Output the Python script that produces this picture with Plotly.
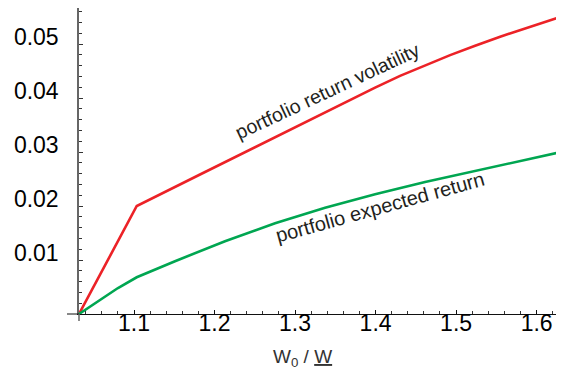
import plotly.graph_objects as go

# data
x_vol = [1.0317, 1.1034, 1.1820, 1.2441, 1.3062, 1.3373, 1.3683, 1.3994, 1.4304,
         1.4615, 1.4926, 1.5236, 1.5547, 1.6333]
y_vol = [0.0, 0.0200, 0.02583, 0.03046, 0.03509, 0.03743, 0.03972, 0.04193, 0.04410,
         0.04609, 0.04794, 0.04969, 0.05135, 0.05522]

x_ret = [1.0317, 1.0801, 1.1034, 1.1509, 1.2130, 1.2752, 1.3373, 1.3994, 1.4615, 1.5547, 1.6333]
y_ret = [0.0, 0.00481, 0.00680, 0.00978, 0.01348, 0.01681, 0.01969, 0.02219, 0.02445, 0.02757, 0.03009]

x_ticks = [1.1, 1.2, 1.3, 1.4, 1.5, 1.6]
y_ticks = [0.01, 0.02, 0.03, 0.04, 0.05]

x_range = [1.0317, 1.634]
y_range = [0.0, 0.05667]

FONT = "Liberation Sans, Arial, Helvetica, sans-serif"

fig = go.Figure()
fig.add_trace(go.Scatter(x=x_vol, y=y_vol, mode="lines",
                         line=dict(color="#ec2227", width=2.6),
                         showlegend=False, hoverinfo="skip"))
fig.add_trace(go.Scatter(x=x_ret, y=y_ret, mode="lines",
                         line=dict(color="#00a651", width=2.6),
                         showlegend=False, hoverinfo="skip"))

# the page body adds an 8px offset, so the figure is 8px smaller on each side
fig.update_layout(
    width=556, height=365,
    margin=dict(l=71, r=0, t=0, b=59, autoexpand=False),
    paper_bgcolor="white", plot_bgcolor="white",
    font=dict(family=FONT, color="black"),
    showlegend=False,
    xaxis=dict(range=x_range, tickvals=x_ticks, ticktext=[f"{v:.1f}" for v in x_ticks],
               automargin=False,
               showgrid=False, zeroline=False, showline=True, linecolor="#111", linewidth=1,
               ticks="inside", ticklen=4, tickcolor="#111", tickwidth=1,
               tickfont=dict(size=23, color="black", family=FONT),
               ticklabelstandoff=-12,
               minor=dict(dtick=0.02, tick0=1.0, ticks="inside", ticklen=3, tickcolor="#333", showgrid=False)),
    yaxis=dict(range=y_range, tickvals=y_ticks, ticktext=[f"{v:.2f}" for v in y_ticks],
               automargin=False,
               showgrid=False, zeroline=False, showline=True, linecolor="#666", linewidth=1.5,
               ticks="inside", ticklen=4, tickcolor="#333", tickwidth=1,
               tickfont=dict(size=23, color="black", family=FONT),
               ticklabelstandoff=14, ticklabelshift=-7,
               minor=dict(dtick=0.002, tick0=0, ticks="inside", ticklen=3, tickcolor="#333", showgrid=False)),
)

# axis overhangs (Mathematica-style crossing axes)
fig.add_shape(type="line", xref="paper", yref="paper", x0=-12/485, x1=0, y0=0, y1=0,
              line=dict(color="#111", width=1))
fig.add_shape(type="line", xref="paper", yref="paper", x0=0, x1=0, y0=-7/306, y1=0,
              line=dict(color="#666", width=1.5))

# curve labels
fig.add_annotation(x=1.3398, y=0.0413, xref="x", yref="y", text="portfolio return volatility",
                   showarrow=False, textangle=-25,
                   font=dict(size=19.5, color="#231f20", family=FONT))
fig.add_annotation(x=1.4056, y=0.0199, xref="x", yref="y", text="portfolio expected return",
                   showarrow=False, textangle=-15.5,
                   font=dict(size=20, color="#231f20", family=FONT))

# x-axis title
fig.add_annotation(x=(302-79)/485, y=-58/306, xref="paper", yref="paper",
                   text="W<sub>0</sub> / <u>W</u>", showarrow=False,
                   font=dict(size=19, color="#333", family=FONT))

fig.write_html("out.html")
